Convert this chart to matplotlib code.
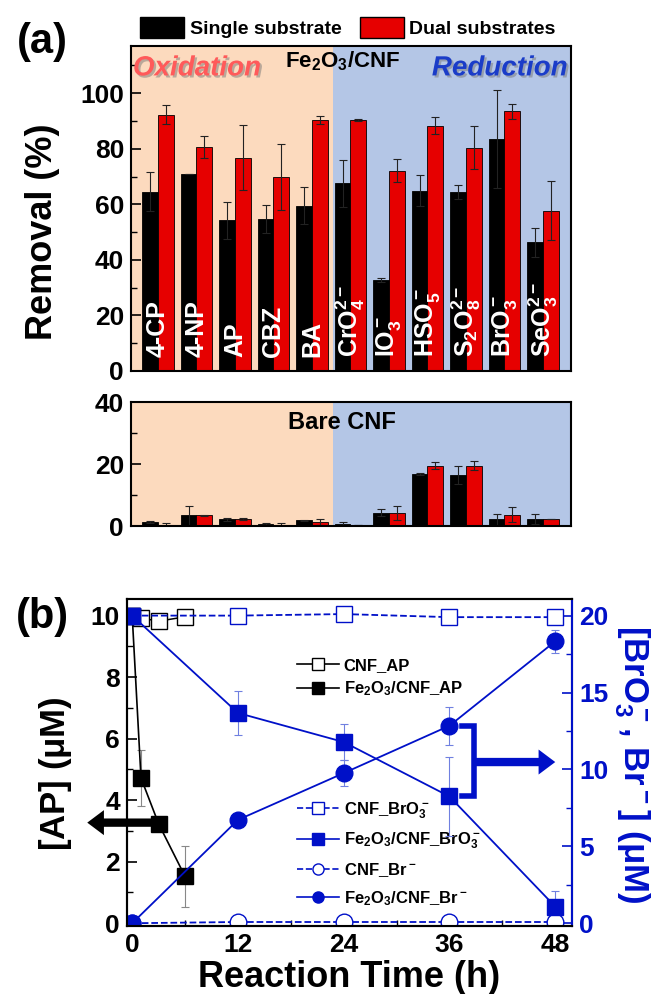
import matplotlib
matplotlib.use('Agg')
import matplotlib.pyplot as plt
import matplotlib.patheffects as pe
from matplotlib.patches import Patch
from matplotlib.lines import Line2D
from matplotlib.ticker import MultipleLocator
import numpy as np

plt.rcParams['font.family'] = ['Liberation Sans', 'DejaVu Sans']
plt.rcParams['font.weight'] = 'bold'
plt.rcParams['mathtext.fontset'] = 'custom'
plt.rcParams['mathtext.rm'] = 'Liberation Sans:bold'
plt.rcParams['mathtext.bf'] = 'Liberation Sans:bold'
plt.rcParams['mathtext.it'] = 'Liberation Sans:bold:italic'
plt.rcParams['mathtext.default'] = 'rm'
plt.rcParams['axes.linewidth'] = 1.5

# ---- data, panel (a) ----
categories = ['4-CP', '4-NP', 'AP', 'CBZ', 'BA', 'CrO$_4^{2-}$', 'IO$_3^-$',
              'HSO$_5^-$', 'S$_2$O$_8^{2-}$', 'BrO$_3^-$', 'SeO$_3^{2-}$']
fe_single = [64.5, 70.8, 54.3, 54.7, 59.5, 67.5, 32.7, 64.9, 64.5, 83.5, 46.3]
fe_single_err = [7.0, 0.0, 6.7, 5.0, 6.6, 8.5, 0.8, 5.6, 2.6, 17.7, 5.3]
fe_dual = [92.2, 80.6, 76.8, 69.8, 90.4, 90.3, 72.1, 88.3, 80.4, 93.6, 57.7]
fe_dual_err = [3.4, 3.9, 11.8, 12.0, 1.5, 0.4, 4.2, 3.0, 7.8, 2.7, 10.6]

cnf_single = [1.3, 3.4, 2.1, 0.55, 1.85, 0.65, 4.3, 16.8, 16.5, 2.1, 2.3]
cnf_single_err = [0.2, 3.2, 0.5, 0.3, 0.1, 0.75, 1.1, 0.3, 3.0, 1.7, 1.5]
cnf_dual = [0.4, 3.4, 2.3, 0.45, 1.2, 0.43, 4.3, 19.5, 19.5, 3.7, 2.2]
cnf_dual_err = [0.6, 0.3, 0.4, 0.4, 1.0, 0.05, 2.3, 1.0, 1.5, 2.3, 0.1]

# ---- data, panel (b) ----
t_ap = [0, 1, 3, 6]
cnf_ap = [10.0, 9.92, 9.82, 9.96]
fe_ap = [10.0, 4.72, 3.23, 1.52]
fe_ap_err = [0, 0.92, 0, 1.0]

t_long = [0, 12, 24, 36, 48]
cnf_bro3 = [20.0, 20.0, 20.1, 19.9, 19.9]
fe_bro3 = [20.0, 13.67, 11.78, 8.24, 1.08]
fe_bro3_err = [0, 1.4, 1.15, 2.6, 1.0]
cnf_br = [0, 0.08, 0.08, 0.08, 0.08]
fe_br = [0, 6.72, 9.76, 12.84, 18.33]
fe_br_err = [0, 0, 0.85, 1.25, 0.75]

orange_bg = '#FCDABE'
blue_bg = '#B4C6E6'
red = '#E60000'
blue = '#0010C8'
W, H = 652, 994


def rect(l, t, r, b):
    return [l / W, 1 - b / H, (r - l) / W, (b - t) / H]


def fx(px):
    return px / W


def fy(py):
    return 1 - py / H


fig = plt.figure(figsize=(6.52, 9.94), dpi=100)
ax1 = fig.add_axes(rect(131, 46, 571, 371))
ax2 = fig.add_axes(rect(131, 402, 571, 526))
ax3 = fig.add_axes(rect(127, 599, 572, 926))

x = np.arange(len(categories))
w = 0.41
ekw = dict(ecolor='#222222', elinewidth=0.8, capsize=3, capthick=0.8)

for ax, s, se, d, de in [(ax1, fe_single, fe_single_err, fe_dual, fe_dual_err),
                         (ax2, cnf_single, cnf_single_err, cnf_dual, cnf_dual_err)]:
    ax.axvspan(-0.7, 4.55, color=orange_bg, zorder=0, lw=0)
    ax.axvspan(4.55, 10.73, color=blue_bg, zorder=0, lw=0)
    ax.bar(x - w / 2, s, w, yerr=se, color='k', edgecolor='k', lw=0.6,
           error_kw=ekw, zorder=2)
    ax.bar(x + w / 2, d, w, yerr=de, color=red, edgecolor='k', lw=0.6,
           error_kw=ekw, zorder=2)
    ax.set_xlim(-0.7, 10.73)
    ax.set_xticks([])
    ax.tick_params(axis='y', direction='in', length=7, width=1.2,
                   labelsize=19, pad=5)
    ax.tick_params(axis='y', which='minor', direction='in', length=4, width=1.0)

ax1.set_ylim(0, 117)
ax1.set_yticks([0, 20, 40, 60, 80, 100])
ax1.yaxis.set_minor_locator(MultipleLocator(10))
ax2.set_ylim(0, 40)
ax2.set_yticks([0, 20, 40])
ax2.yaxis.set_minor_locator(MultipleLocator(10))

for xi, lab in zip(x, categories):
    ax1.text(xi, 5, lab, rotation=90, ha='center', va='bottom', color='white',
             fontsize=18, fontweight='bold', zorder=5)

shadow = [pe.withSimplePatchShadow(offset=(1.5, -1.5), shadow_rgbFace='#777777', alpha=0.5)]
ax1.text(0.15, 0.931, 'Oxidation', transform=ax1.transAxes, ha='center', va='center',
         fontsize=20, fontstyle='italic', fontweight='bold', color='#FF5A5A',
         path_effects=shadow)
ax1.text(0.48, 0.952, 'Fe$_2$O$_3$/CNF', transform=ax1.transAxes, ha='center',
         va='center', fontsize=16, fontweight='bold')
ax1.text(0.838, 0.931, 'Reduction', transform=ax1.transAxes, ha='center', va='center',
         fontsize=20, fontstyle='italic', fontweight='bold', color='#1A3CC8',
         path_effects=shadow)
ax2.text(0.48, 0.838, 'Bare CNF', transform=ax2.transAxes, ha='center', va='center',
         fontsize=17, fontweight='bold')

fig.legend(handles=[Patch(facecolor='k', edgecolor='k', label='Single substrate'),
                    Patch(facecolor=red, edgecolor='k', label='Dual substrates')],
           loc='center left', bbox_to_anchor=(fx(140), fy(27.5)), ncol=2,
           frameon=False, fontsize=14, handlelength=2.25, handleheight=1.35,
           handletextpad=0.3, columnspacing=0.95, borderpad=0, borderaxespad=0)

fig.text(fx(43), fy(232), 'Removal (%)', rotation=90, ha='center', va='center',
         fontsize=26, fontweight='bold')
fig.text(fx(42), fy(42), '(a)', ha='center', va='center', fontsize=30, fontweight='bold')
fig.text(fx(42), fy(617), '(b)', ha='center', va='center', fontsize=30, fontweight='bold')

# ---- panel (b) ----
ax4 = ax3.twinx()
ax3.plot(t_ap, cnf_ap, '-', color='k', lw=1.1, marker='s', ms=11,
         mfc='white', mec='k', mew=1.0, zorder=3)
ax3.errorbar(t_ap, fe_ap, yerr=fe_ap_err, fmt='-s', color='k', lw=1.2, ms=12,
             ecolor='#888888', elinewidth=0.8, capsize=3, capthick=0.8, zorder=4)

ax4.plot(t_long, cnf_bro3, '--', color=blue, lw=1.3, marker='s', ms=12,
         mfc='white', mec=blue, mew=1.0)
ax4.errorbar(t_long, fe_bro3, yerr=fe_bro3_err, fmt='-s', color=blue, lw=1.3, ms=12,
             ecolor='#7080E0', elinewidth=0.8, capsize=3, capthick=0.8)
ax4.plot(t_long, cnf_br, '--', color=blue, lw=1.3, marker='o', ms=12,
         mfc='white', mec=blue, mew=1.0)
ax4.errorbar(t_long, fe_br, yerr=fe_br_err, fmt='-o', color=blue, lw=1.3, ms=12,
             ecolor='#7080E0', elinewidth=0.8, capsize=3, capthick=0.8)

ax3.set_xlim(-0.59, 49.9)
ax3.set_ylim(-0.09, 10.54)
ax4.set_ylim(-0.18, 21.08)
ax3.set_xticks([0, 12, 24, 36, 48])
ax3.xaxis.set_minor_locator(MultipleLocator(6))
ax3.set_yticks([0, 2, 4, 6, 8, 10])
ax3.yaxis.set_minor_locator(MultipleLocator(1))
ax4.set_yticks([0, 5, 10, 15, 20])
ax4.yaxis.set_minor_locator(MultipleLocator(2.5))
ax3.tick_params(axis='both', direction='in', length=7, width=1.2, labelsize=19, pad=5)
ax3.tick_params(axis='both', which='minor', direction='in', length=4, width=1.0)
ax4.tick_params(axis='y', direction='in', length=7, width=1.2, labelsize=19, pad=5,
                colors=blue)
ax4.tick_params(axis='y', which='minor', direction='in', length=4, width=1.0, colors=blue)
ax4.spines['right'].set_color(blue)

ax3.set_xlabel('Reaction Time (h)', fontsize=26, fontweight='bold', labelpad=2)
fig.text(fx(56), fy(774), '[AP] ($\\mu$M)', rotation=90, ha='center', va='center',
         fontsize=25, fontweight='bold')
fig.text(fx(632), fy(764), '[BrO$_3^-$, Br$^-$] ($\\mu$M)', rotation=-90, ha='center',
         va='center', fontsize=25, fontweight='bold', color=blue)

# arrows
ax3.annotate('', xy=(-5.1, 3.27), xytext=(2.2, 3.27), annotation_clip=False,
             arrowprops=dict(width=6, headwidth=18, headlength=12, color='k', lw=0))
ax4.plot([37.4, 38.8, 38.8, 37.4], [12.84, 12.84, 8.24, 8.24], color=blue, lw=4,
         solid_joinstyle='miter')
ax4.annotate('', xy=(48, 10.48), xytext=(38.8, 10.48),
             arrowprops=dict(width=6, headwidth=18, headlength=12, color=blue, lw=0))

leg1 = ax3.legend(handles=[
    Line2D([], [], color='k', lw=1.2, marker='s', ms=8, mfc='white', mec='k'),
    Line2D([], [], color='k', lw=1.2, marker='s', ms=8)],
    labels=['CNF_AP', 'Fe$_2$O$_3$/CNF_AP'],
    loc='upper left', bbox_to_anchor=(0.382, 0.82), frameon=False, fontsize=12,
    handlelength=2.5, handletextpad=0.3, labelspacing=0.4, borderpad=0,
    borderaxespad=0)
ax3.add_artist(leg1)
ax3.legend(handles=[
    Line2D([], [], color=blue, lw=1.2, ls='--', marker='s', ms=8, mfc='white', mec=blue),
    Line2D([], [], color=blue, lw=1.2, marker='s', ms=8),
    Line2D([], [], color=blue, lw=1.2, ls='--', marker='o', ms=8, mfc='white', mec=blue),
    Line2D([], [], color=blue, lw=1.2, marker='o', ms=8)],
    labels=['CNF_BrO$_3^-$', 'Fe$_2$O$_3$/CNF_BrO$_3^-$', 'CNF_Br$^-$', 'Fe$_2$O$_3$/CNF_Br$^-$'],
    loc='upper left', bbox_to_anchor=(0.382, 0.385), frameon=False, fontsize=12,
    handlelength=2.5, handletextpad=0.3, labelspacing=0.6, borderpad=0,
    borderaxespad=0)

fig.savefig('out.png', dpi=100)
